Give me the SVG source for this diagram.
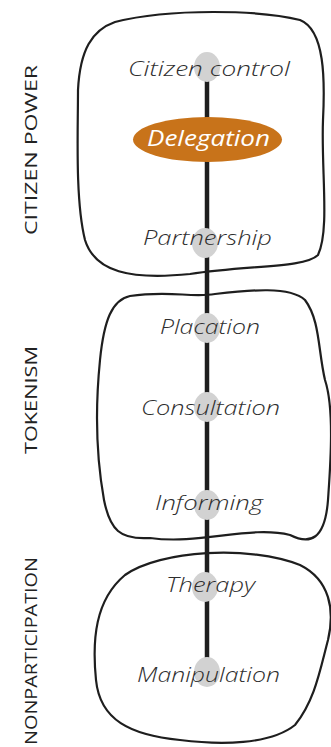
<svg xmlns="http://www.w3.org/2000/svg" width="331" height="747" viewBox="0 0 331 747">
<style>
.blob{fill:none;stroke:#1e1e1e;stroke-width:2.2;stroke-linejoin:round}
.dot{fill:#d2d2d2}
.lbl{font-family:"Open Sans","Liberation Sans",sans-serif;font-style:italic;font-weight:300;font-size:21px;fill:#2e2e2e;text-anchor:middle}
.grp{font-family:"Open Sans","Liberation Sans",sans-serif;font-size:17px;fill:#222;text-anchor:middle}
</style>
<rect width="331" height="747" fill="#fff"/>
<g id="blobs">
<path class="blob" d="M 115,22 C 170,8 260,10 300,20 C 325,30 325,80 323,120 C 321,170 330,230 318,255 C 305,268 250,265 190,274 C 130,280 95,272 85,240 C 75,200 78,130 78,90 C 80,50 92,30 115,22 Z"/>
<path class="blob" d="M 130,296 C 170,290 190,298 215,294 C 250,290 290,286 305,300 C 320,320 318,350 325,380 C 335,410 330,470 328,500 C 325,540 310,545 290,535 C 250,525 200,545 150,538 C 120,540 110,530 104,500 C 95,450 96,400 100,360 C 104,320 112,300 130,296 Z"/>
<path class="blob" d="M 125,575 C 160,550 250,545 300,565 C 330,580 335,610 328,640 C 320,670 315,700 295,725 C 270,745 220,745 180,740 C 130,735 100,720 96,680 C 92,640 95,600 125,575 Z"/>
</g>
<g id="connectors">
<line x1="207" y1="67" x2="207" y2="672" stroke="#1e1e1e" stroke-width="4.5"/>
</g>
<g id="citizen-control"><ellipse class="dot" cx="207" cy="67" rx="13" ry="15"/><text class="lbl" x="209" y="76" textLength="162" lengthAdjust="spacingAndGlyphs">Citizen control</text></g>
<g id="delegation"><ellipse cx="207.5" cy="139.5" rx="74.5" ry="22.5" fill="#c8731a"/><text class="lbl" x="208.5" y="146" style="fill:#fff;font-weight:400" textLength="123" lengthAdjust="spacingAndGlyphs">Delegation</text></g>
<g id="partnership"><ellipse class="dot" cx="205" cy="243" rx="13" ry="15"/><text class="lbl" x="207.5" y="245" textLength="129" lengthAdjust="spacingAndGlyphs">Partnership</text></g>
<g id="placation"><ellipse class="dot" cx="207" cy="328" rx="13" ry="15"/><text class="lbl" x="210" y="334" textLength="100" lengthAdjust="spacingAndGlyphs">Placation</text></g>
<g id="consultation"><ellipse class="dot" cx="207" cy="407" rx="13" ry="15"/><text class="lbl" x="210.5" y="415" textLength="139" lengthAdjust="spacingAndGlyphs">Consultation</text></g>
<g id="informing"><ellipse class="dot" cx="207" cy="505" rx="13" ry="15"/><text class="lbl" x="209" y="510" textLength="108" lengthAdjust="spacingAndGlyphs">Informing</text></g>
<g id="therapy"><ellipse class="dot" cx="205" cy="587" rx="13" ry="15"/><text class="lbl" x="210.5" y="592" textLength="89" lengthAdjust="spacingAndGlyphs">Therapy</text></g>
<g id="manipulation"><ellipse class="dot" cx="207" cy="672" rx="13" ry="15"/><text class="lbl" x="208.5" y="682" textLength="143" lengthAdjust="spacingAndGlyphs">Manipulation</text></g>
<g id="group-labels">
<text class="grp" transform="translate(37,150) rotate(-90)" textLength="170" lengthAdjust="spacingAndGlyphs">CITIZEN POWER</text>
<text class="grp" transform="translate(37,400) rotate(-90)" textLength="108" lengthAdjust="spacingAndGlyphs">TOKENISM</text>
<text class="grp" transform="translate(37,651) rotate(-90)" textLength="188" lengthAdjust="spacingAndGlyphs">NONPARTICIPATION</text>
</g>
</svg>
